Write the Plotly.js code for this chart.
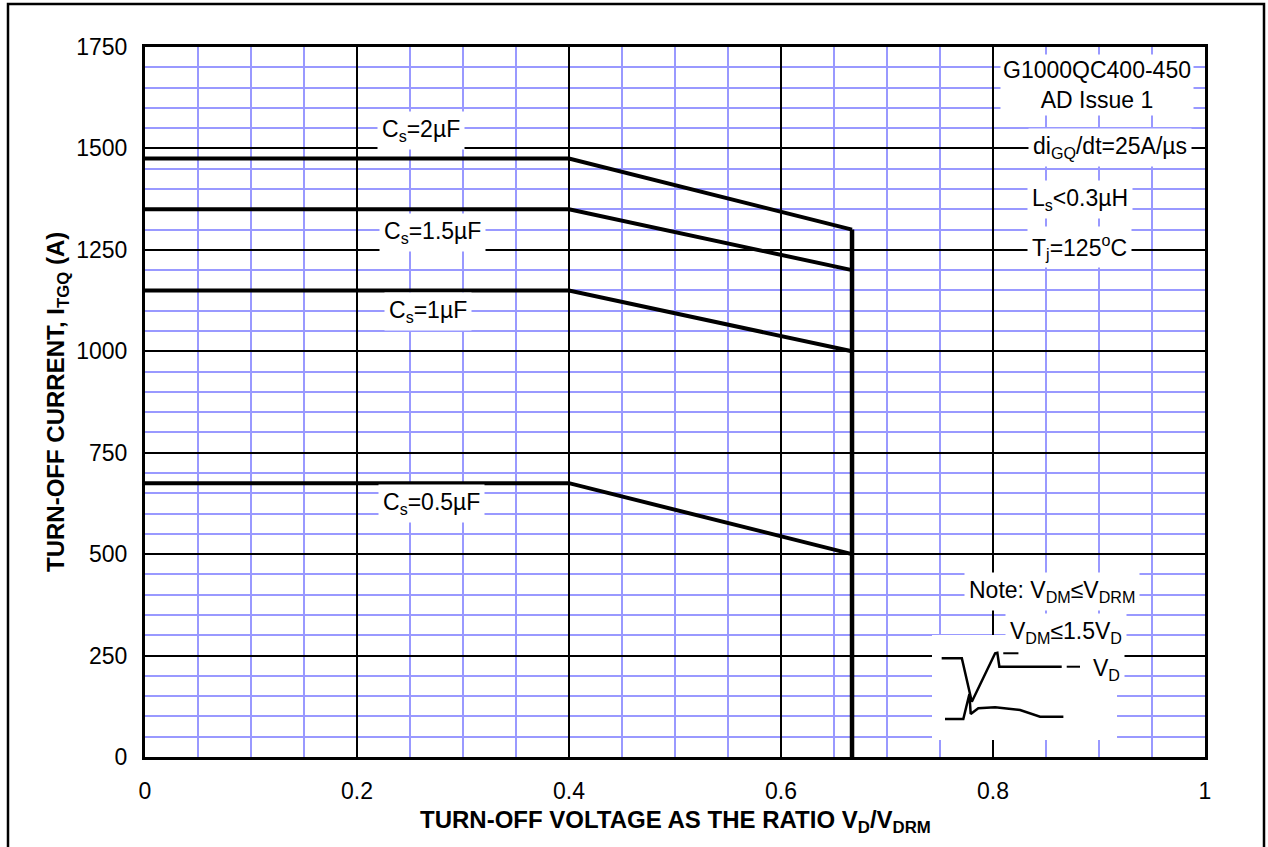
<!DOCTYPE html>
<html>
<head>
<meta charset="utf-8">
<script src="https://cdn.plot.ly/plotly-3.0.1.min.js"></script>
<style>html,body{margin:0;padding:0;background:#fff;}#chart{width:1268px;height:847px;}</style>
</head>
<body>
<div id="chart"></div>
<script>
// Turn-off voltage ratio V_D/V_DRM at the curve breakpoints
const xKnee = [0, 0.4, 0.667];
// Max turn-off current I_TGQ (A) for each snubber capacitance
const cs2uF  = [1475, 1475, 1300];
const cs15uF = [1350, 1350, 1200];
const cs1uF  = [1150, 1150, 1000];
const cs05uF = [675, 675, 500];
// Limit line at V_D/V_DRM = 2/3
const limitX = [0.667, 0.667];
const limitY = [1300, 0];

// Inset waveform sketch (arbitrary normalised units)
const waveVx = [0.052, 0.161, 0.215, 0.341, 0.353, 0.364, 0.701];
const waveVy = [0.778, 0.778, 0.365, 0.826, 0.831, 0.698, 0.698];
const waveIx = [0.070, 0.169, 0.202, 0.209, 0.250, 0.341, 0.476, 0.584, 0.710];
const waveIy = [0.200, 0.200, 0.438, 0.248, 0.302, 0.311, 0.286, 0.222, 0.222];
const vdmMarkX = [0.385, 0.467];
const vdmMarkY = [0.826, 0.826];
const vdDashX = [0.728, 0.800];
const vdDashY = [0.698, 0.698];

const FONT = 'Liberation Sans, Arial, sans-serif';
const curveLine = {color: '#000', width: 4};

const traces = [
  {x: xKnee, y: cs2uF, mode: 'lines', line: curveLine, hoverinfo: 'skip'},
  {x: xKnee, y: cs15uF, mode: 'lines', line: curveLine, hoverinfo: 'skip'},
  {x: xKnee, y: cs1uF, mode: 'lines', line: curveLine, hoverinfo: 'skip'},
  {x: xKnee, y: cs05uF, mode: 'lines', line: curveLine, hoverinfo: 'skip'},
  {x: limitX, y: limitY, mode: 'lines', line: {color: '#000', width: 4.5}, hoverinfo: 'skip'},
  {x: waveVx, y: waveVy, xaxis: 'x2', yaxis: 'y2', mode: 'lines', line: {color: '#000', width: 2.5}, hoverinfo: 'skip'},
  {x: waveIx, y: waveIy, xaxis: 'x2', yaxis: 'y2', mode: 'lines', line: {color: '#000', width: 2.5}, hoverinfo: 'skip'},
  {x: vdmMarkX, y: vdmMarkY, xaxis: 'x2', yaxis: 'y2', mode: 'lines', line: {color: '#000', width: 2}, hoverinfo: 'skip'},
  {x: vdDashX, y: vdDashY, xaxis: 'x2', yaxis: 'y2', mode: 'lines', line: {color: '#000', width: 2}, hoverinfo: 'skip'}
];

function lbl(text, x, y, extra) {
  return Object.assign({
    text: text, x: x, y: y, xref: 'x', yref: 'y', showarrow: false,
    xanchor: 'center', yanchor: 'middle',
    font: {family: FONT, size: 23, color: '#000'},
    bgcolor: '#fff', borderpad: 4
  }, extra || {});
}

const annotations = [
  lbl('C<sub>s</sub>=2µF', 0.260, 1545),
  lbl('C<sub>s</sub>=1.5µF', 0.271, 1292),
  lbl('C<sub>s</sub>=1µF', 0.267, 1097),
  lbl('C<sub>s</sub>=0.5µF', 0.270, 626),
  lbl('G1000QC400-450<br>AD Issue 1', 0.898, 1656, {borderpad: 2}),
  lbl('di<sub>GQ</sub>/dt=25A/µs', 0.910, 1503),
  lbl('L<sub>s</sub>&lt;0.3µH', 0.882, 1373),
  lbl('T<sub>j</sub>=125<sup>o</sup>C', 0.882, 1257),
  lbl('Note: V<sub>DM</sub>≤V<sub>DRM</sub>', 0.856, 407),
  lbl('V<sub>DM</sub>≤1.5V<sub>D</sub>', 0.869, 308),
  lbl('V<sub>D</sub>', 0.9075, 215),
  {
    text: '<b>TURN-OFF VOLTAGE AS THE RATIO V<sub>D</sub>/V<sub>DRM</sub></b>',
    xref: 'paper', yref: 'paper', x: 0.5, y: (757 - 821) / 710,
    xanchor: 'center', yanchor: 'middle', showarrow: false,
    font: {family: FONT, size: 24, color: '#000'}
  },
  {
    text: '<b>TURN-OFF CURRENT, I<sub>TGQ</sub> (A)</b>',
    xref: 'paper', yref: 'paper', x: (57 - 145) / 1060, y: 0.5, textangle: -90,
    xanchor: 'center', yanchor: 'middle', showarrow: false,
    font: {family: FONT, size: 24, color: '#000'}
  }
];

const shapes = [
  // white panel behind inset waveform
  {type: 'rect', xref: 'x', yref: 'y', x0: 0.7425, x1: 0.917, y0: 42, y1: 301,
   fillcolor: '#fff', line: {width: 0}, layer: 'between'},
  // outer page frame
  {type: 'rect', xref: 'paper', yref: 'paper', x0: (8 - 145) / 1060, x1: (1264 - 145) / 1060,
   y0: -0.3, y1: (757 - 4) / 710, line: {color: '#000', width: 2.5}, fillcolor: 'rgba(0,0,0,0)', layer: 'below'}
];

const layout = {
  width: 1268, height: 847,
  margin: {l: 145, r: 63, t: 47, b: 90},
  paper_bgcolor: '#fff', plot_bgcolor: '#fff',
  showlegend: false,
  font: {family: FONT, size: 23, color: '#000'},
  xaxis: {
    range: [0, 1], dtick: 0.2, tick0: 0, showgrid: true, gridcolor: '#000', gridwidth: 2,
    minor: {dtick: 0.05, showgrid: true, gridcolor: '#9999ff', gridwidth: 2},
    showline: true, mirror: true, linecolor: '#000', linewidth: 3, zeroline: false,
    ticks: '', ticklabelstandoff: 11, tickfont: {family: FONT, size: 23, color: '#000'},
    fixedrange: true
  },
  yaxis: {
    range: [0, 1750], dtick: 250, tick0: 0, showgrid: true, gridcolor: '#000', gridwidth: 2,
    minor: {dtick: 50, showgrid: true, gridcolor: '#9999ff', gridwidth: 2},
    showline: true, mirror: true, linecolor: '#000', linewidth: 3, zeroline: false,
    ticks: '', ticklabelstandoff: 10, tickfont: {family: FONT, size: 23, color: '#000'},
    fixedrange: true
  },
  xaxis2: {domain: [0.7425, 0.917], range: [0, 1], anchor: 'y2', visible: false, fixedrange: true},
  yaxis2: {domain: [17 / 710, 122 / 710], range: [0, 1], anchor: 'x2', visible: false, fixedrange: true},
  annotations: annotations,
  shapes: shapes
};

Plotly.newPlot('chart', traces, layout, {displayModeBar: false, staticPlot: true});
</script>
</body>
</html>
